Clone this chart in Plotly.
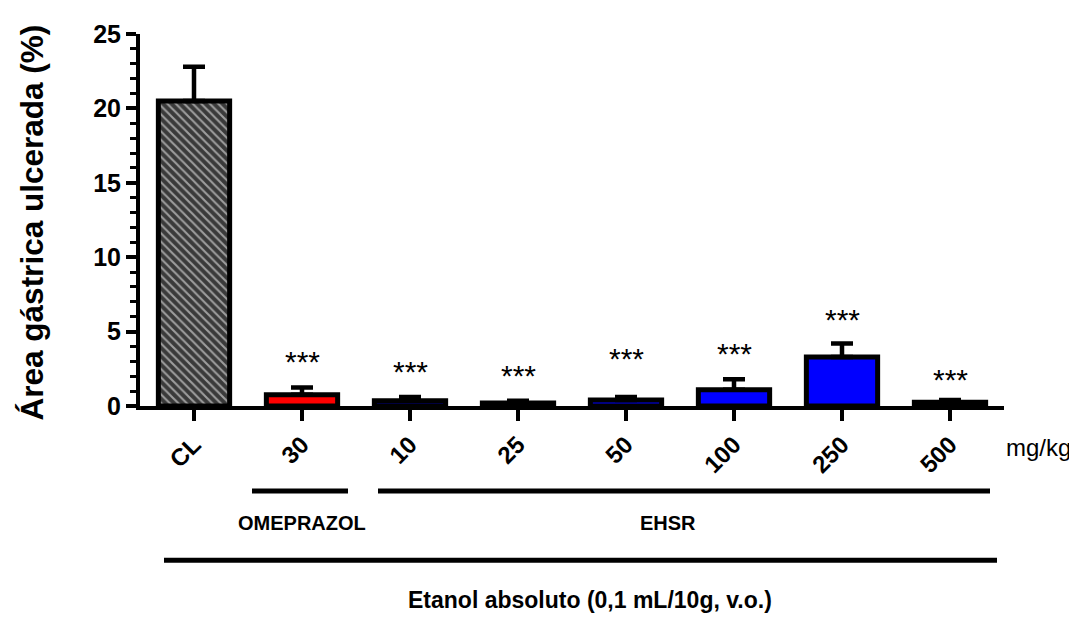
import plotly.graph_objects as go

categories = ["CL", "30", "10", "25", "50", "100", "250", "500"]
values = [20.5, 0.75, 0.35, 0.2, 0.4, 1.1, 3.3, 0.25]
errors = [2.3, 0.5, 0.25, 0.15, 0.2, 0.7, 0.9, 0.15]
sig_labels = ["", "***", "***", "***", "***", "***", "***", "***"]
sig_heights = [None, 3.0, 2.3, 2.05, 3.2, 3.5, 5.8, 1.8]
group_names = ["OMEPRAZOL", "EHSR"]
footer = "Etanol absoluto (0,1 mL/10g, v.o.)"
y_title = "Área gástrica ulcerada (%)"
unit_label = "mg/kg"

fill_colors = ["#3a3a3a", "#ff0000", "#0000ff", "#0000ff", "#0000ff", "#0000ff", "#0000ff", "#0000ff"]
pattern_shapes = ["\\", "", "", "", "", "", "", ""]

# page body has an 8px margin; work in reference pixel coordinates and shift
OFF = 8
W, H = 1077 - OFF, 618 - OFF
L, T = 140 - OFF, 25 - OFF
RIGHT, BOTTOM = 1004 - OFF, 406 - OFF
R, B = W - RIGHT, H - BOTTOM
pw, ph = RIGHT - L, BOTTOM - T


def px(x):
    return (x - OFF - L) / pw


def py(y):
    return (BOTTOM - (y - OFF)) / ph


ARIAL = "Liberation Sans, Arial"
NARROW = "Liberation Sans Narrow, Liberation Sans, Arial"

fig = go.Figure()
fig.add_trace(go.Bar(
    x=categories, y=values,
    width=0.66,
    marker=dict(
        color=fill_colors,
        line=dict(color="black", width=5),
        pattern=dict(shape=pattern_shapes, fgcolor="#000000", size=6, solidity=0.35),
    ),
    error_y=dict(type="data", symmetric=False, array=errors, arrayminus=[0] * len(errors),
                 color="black", thickness=4.5, width=11),
    showlegend=False,
))

for i, (lab, h) in enumerate(zip(sig_labels, sig_heights)):
    if lab:
        fig.add_annotation(x=i, y=h, xref="x", yref="y", text=lab, showarrow=False,
                           font=dict(family=ARIAL, size=30, color="black"),
                           yanchor="middle", xanchor="center")

label_font = dict(family=NARROW, size=20, color="black", weight="bold")
fig.add_annotation(x=px(302), y=py(526), xref="paper", yref="paper", text=group_names[0],
                   showarrow=False, font=label_font, xanchor="center", yanchor="middle")
fig.add_annotation(x=px(668), y=py(526), xref="paper", yref="paper", text=group_names[1],
                   showarrow=False, font=label_font, xanchor="center", yanchor="middle")
fig.add_annotation(x=px(590), y=py(605), xref="paper", yref="paper", text=footer,
                   showarrow=False, font=dict(family=NARROW, size=23, color="black", weight="bold"),
                   xanchor="center", yanchor="middle")
fig.add_annotation(x=px(1004), y=py(448), xref="paper", yref="paper", text=unit_label,
                   showarrow=False, font=dict(family=ARIAL, size=24, color="black"),
                   xanchor="left", yanchor="middle")
fig.add_annotation(x=px(32), y=py(218), xref="paper", yref="paper", text=y_title, textangle=-90,
                   showarrow=False, font=dict(family=ARIAL, size=31.5, color="black", weight="bold"),
                   xanchor="center", yanchor="middle")

for x0, x1, yy in [(252, 348, 493), (378, 990, 493), (164, 997, 564)]:
    fig.add_shape(type="line", xref="paper", yref="paper", x0=px(x0), x1=px(x1), y0=py(yy), y1=py(yy),
                  line=dict(color="black", width=5))

fig.update_layout(
    width=W, height=H,
    margin=dict(l=L, r=R, t=T, b=B, pad=0),
    plot_bgcolor="white", paper_bgcolor="white",
    xaxis=dict(
        type="category", range=[-0.5, 7.5],
        showline=True, linecolor="black", linewidth=4,
        ticks="outside", ticklen=11, tickwidth=3.5, tickcolor="black",
        tickangle=-45,
        tickfont=dict(family=ARIAL, size=24, color="black", weight="bold"),
        showgrid=False, zeroline=False,
    ),
    yaxis=dict(
        range=[0, 25], tickvals=[0, 5, 10, 15, 20, 25],
        showline=True, linecolor="black", linewidth=4,
        ticks="outside", ticklen=10, tickwidth=3.5, tickcolor="black",
        minor=dict(dtick=1, ticks="outside", ticklen=6, tickwidth=3, tickcolor="black", showgrid=False),
        tickfont=dict(family=ARIAL, size=25, color="black", weight="bold"),
        showgrid=False, zeroline=False,
    ),
)

fig.write_html("out.html")
